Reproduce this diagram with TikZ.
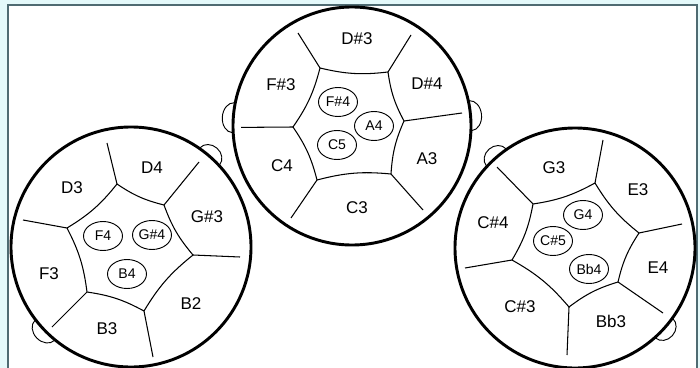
\documentclass[tikz,border=0pt]{standalone}
\usepackage{fontspec}
\setmainfont{Liberation Sans}
\usetikzlibrary{shapes.geometric}
\definecolor{framecol}{HTML}{4F6B72}
\definecolor{outcyan}{HTML}{E4F9FA}
\begin{document}
\begin{tikzpicture}[x=0.03cm,y=0.03cm,yscale=-1,
  drum/.style={line width=2.5pt,fill=white},
  seam/.style={line width=0.9pt},
  bump/.style={line width=0.8pt},
  lab/.style={font=\fontsize{14.5}{16}\selectfont,inner sep=0pt},
  pad/.style={draw,ellipse,line width=0.8pt,inner sep=0pt,minimum width=1.17cm,minimum height=0.87cm,font=\fontsize{12}{14}\selectfont},
  hexedge/.style={seam,bend left=10},
]
\useasboundingbox (0,0) rectangle (700,368);
% background and frame
\fill[outcyan] (0,0) rectangle (700,368);
\fill[white] (8,5) rectangle (697,368);
\draw[framecol,line width=1.4pt] (8,368) -- (8,5) -- (697,5) -- (697,368);

% bumps (handles)
\draw[bump,shift={(131,247)},rotate=-49] (120,0) ellipse (11 and 13);
\draw[bump,shift={(131,247)},rotate=136] (120,0) ellipse (11 and 14);
\draw[bump,shift={(352,126)},rotate=184] (119,0) ellipse (11 and 15);
\draw[bump,shift={(352,126)},rotate=-5] (119,0) ellipse (11 and 15);
\draw[bump,shift={(575,248)},rotate=-131] (120,0) ellipse (11 and 13);
\draw[bump,shift={(575,248)},rotate=42] (120,0) ellipse (11 and 13);

% drums
\filldraw[drum] (131,247) circle (120);
\filldraw[drum] (352,126) circle (119);
\filldraw[drum] (575,248) circle (120);

% ---------- left drum ----------
\coordinate (La) at (67,228);
\coordinate (Lb) at (117,184);
\coordinate (Lc) at (164,205);
\coordinate (Ld) at (193,255);
\coordinate (Le) at (144,311);
\coordinate (Lf) at (87,292);
\coordinate (La1) at (23,220);
\coordinate (Lb1) at (107,143);
\coordinate (Lc1) at (199,162);
\coordinate (Ld1) at (240,257);
\coordinate (Le1) at (153,357);
\coordinate (Lf1) at (52,327);
\draw[seam] (La) to[hexedge] (Lb) to[hexedge] (Lc) to[hexedge] (Ld)
  to[hexedge] (Le) to[hexedge] (Lf) to[hexedge] (La);
\foreach \v in {La,Lb,Lc,Ld,Le,Lf} \draw[seam] (\v) -- (\v1);
\node[lab] (lD3) at (72,188) {D3};
\node[lab] (lD4) at (152,168) {D4};
\node[lab] (lGs3) at (207,217) {G\#3};
\node[lab] (lF3) at (49,274) {F3};
\node[lab] (lB2) at (191,304) {B2};
\node[lab] (lB3) at (107,329) {B3};
\node[pad] (pF4) at (103,236) {F4};
\node[pad] (pGs4) at (152,235) {G\#4};
\node[pad] (pB4) at (127,274) {B4};

% ---------- middle drum ----------
\coordinate (Ma) at (320,68);
\coordinate (Mb) at (388,72);
\coordinate (Mc) at (404,121);
\coordinate (Md) at (391,174);
\coordinate (Me) at (317,180);
\coordinate (Mf) at (293,127);
\coordinate (Ma1) at (298,33);
\coordinate (Mb1) at (411,35);
\coordinate (Mc1) at (462,113);
\coordinate (Md1) at (423,210);
\coordinate (Me1) at (291,218);
\coordinate (Mf1) at (241,127.4);
\draw[seam] (Ma) to[hexedge] (Mb) to[hexedge] (Mc) to[hexedge] (Md)
  to[hexedge] (Me) to[hexedge] (Mf) to[hexedge] (Ma);
\foreach \v in {Ma,Mb,Mc,Md,Me,Mf} \draw[seam] (\v) -- (\v1);
\node[lab] (lDs3) at (357,39) {D\#3};
\node[lab] (lFs3) at (281,85) {F\#3};
\node[lab] (lDs4) at (427,84) {D\#4};
\node[lab] (lC4) at (282,166) {C4};
\node[lab] (lA3) at (427,159) {A3};
\node[lab] (lC3) at (357,208) {C3};
\node[pad] (pFs4) at (338,102) {F\#4};
\node[pad] (pA4) at (374,126) {A4};
\node[pad] (pC5) at (337,145) {C5};

% ---------- right drum ----------
\coordinate (Ra) at (533,204);
\coordinate (Rb) at (595,183);
\coordinate (Rc) at (639,233);
\coordinate (Rd) at (618,282);
\coordinate (Re) at (569,307);
\coordinate (Rf) at (512,260);
\coordinate (Ra1) at (497,167);
\coordinate (Rb1) at (603,140);
\coordinate (Rc1) at (682,224);
\coordinate (Rd1) at (663,313);
\coordinate (Re1) at (567,355);
\coordinate (Rf1) at (465,268);
\draw[seam] (Ra) to[hexedge] (Rb) to[hexedge] (Rc) to[hexedge] (Rd)
  to[hexedge] (Re) to[hexedge] (Rf) to[hexedge] (Ra);
\foreach \v in {Ra,Rb,Rc,Rd,Re,Rf} \draw[seam] (\v) -- (\v1);
\node[lab] (lG3) at (554,168) {G3};
\node[lab] (lE3) at (638,190) {E3};
\node[lab] (lCs4) at (493,223) {C\#4};
\node[lab] (lE4) at (658,268) {E4};
\node[lab] (lCs3) at (520,307) {C\#3};
\node[lab] (lBb3) at (611,321) {Bb3};
\node[pad] (pG4) at (583,215) {G4};
\node[pad] (pCs5) at (553,241) {C\#5};
\node[pad] (pBb4) at (589,269) {Bb4};
\end{tikzpicture}
\end{document}
